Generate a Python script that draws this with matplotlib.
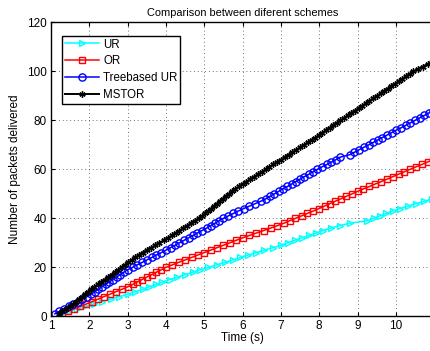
import numpy as np
import matplotlib
matplotlib.use("Agg")
import matplotlib.pyplot as plt

plt.rcParams["font.family"] = ["Liberation Sans", "DejaVu Sans"]

# delivery time (s) of each packet; y is the running count of delivered packets
ur_times = [
    1.26, 1.47, 1.68, 1.89, 2.11, 2.33, 2.56, 2.78, 3.00, 3.20,
    3.39, 3.56, 3.74, 3.91, 4.10, 4.30, 4.50, 4.70, 4.90, 5.11,
    5.33, 5.55, 5.75, 5.94, 6.15, 6.36, 6.57, 6.79, 7.00, 7.18,
    7.36, 7.55, 7.73, 7.91, 8.10, 8.30, 8.53, 8.80, 9.25, 9.42,
    9.58, 9.75, 9.92, 10.11, 10.32, 10.53, 10.74, 10.95,
]
or_times = [
    1.28, 1.44, 1.60, 1.76, 1.92, 2.08, 2.23, 2.38, 2.54, 2.69,
    2.85, 3.00, 3.13, 3.25, 3.38, 3.50, 3.63, 3.75, 3.88, 4.00,
    4.17, 4.33, 4.50, 4.67, 4.83, 5.00, 5.17, 5.33, 5.50, 5.67,
    5.83, 6.00, 6.18, 6.36, 6.55, 6.73, 6.91, 7.08, 7.23, 7.38,
    7.54, 7.69, 7.85, 8.00, 8.14, 8.28, 8.42, 8.57, 8.71, 8.86,
    9.00, 9.15, 9.31, 9.46, 9.62, 9.77, 9.92, 10.07, 10.22, 10.37,
    10.52, 10.68, 10.83, 10.98,
]
tree_times = [
    1.10, 1.22, 1.34, 1.46, 1.58, 1.70, 1.82, 1.94, 2.05, 2.14,
    2.24, 2.33, 2.43, 2.52, 2.62, 2.71, 2.81, 2.90, 3.00, 3.13,
    3.25, 3.38, 3.50, 3.63, 3.75, 3.88, 4.00, 4.12, 4.24, 4.35,
    4.47, 4.59, 4.71, 4.82, 4.94, 5.06, 5.17, 5.28, 5.39, 5.50,
    5.63, 5.76, 5.89, 6.03, 6.18, 6.33, 6.48, 6.61, 6.72, 6.83,
    6.94, 7.05, 7.17, 7.28, 7.39, 7.50, 7.61, 7.73, 7.84, 7.95,
    8.07, 8.20, 8.32, 8.44, 8.55, 8.80, 8.92, 9.04, 9.16, 9.29,
    9.41, 9.53, 9.65, 9.77, 9.89, 10.01, 10.14, 10.26, 10.38, 10.50,
    10.62, 10.74, 10.86, 10.98,
]
mstor_times = [
    1.20, 1.30, 1.40, 1.49, 1.57, 1.65, 1.73, 1.81, 1.88, 1.96,
    2.04, 2.13, 2.22, 2.31, 2.40, 2.49, 2.58, 2.67, 2.76, 2.85,
    2.94, 3.02, 3.11, 3.20, 3.29, 3.39, 3.50, 3.61, 3.72, 3.83,
    3.94, 4.05, 4.15, 4.25, 4.35, 4.45, 4.55, 4.65, 4.75, 4.85,
    4.95, 5.03, 5.10, 5.18, 5.25, 5.33, 5.40, 5.48, 5.56, 5.64,
    5.73, 5.81, 5.90, 6.00, 6.10, 6.20, 6.30, 6.40, 6.50, 6.60,
    6.70, 6.80, 6.90, 7.00, 7.10, 7.20, 7.30, 7.40, 7.50, 7.60,
    7.70, 7.80, 7.90, 7.99, 8.08, 8.18, 8.27, 8.36, 8.46, 8.55,
    8.65, 8.74, 8.84, 8.93, 9.03, 9.12, 9.22, 9.31, 9.41, 9.50,
    9.60, 9.69, 9.79, 9.88, 9.98, 10.07, 10.17, 10.26, 10.36, 10.45,
    10.58, 10.70, 10.83, 10.95,
]

labels = ["UR", "OR", "Treebased UR", "MSTOR"]
x_ticks = [1, 2, 3, 4, 5, 6, 7, 8, 9, 10, 11]
y_ticks = [0, 20, 40, 60, 80, 100, 120]


def count(times):
    return np.arange(1, len(times) + 1)


fig = plt.figure(figsize=(4.31, 3.51), dpi=100)
ax = fig.add_axes([0.1183, 0.099, 0.889, 0.837])

ax.plot(ur_times, count(ur_times), color="cyan", marker=">", markersize=5,
        markerfacecolor="none", markeredgewidth=1.0, linewidth=1.1, label=labels[0])
ax.plot(or_times, count(or_times), color="red", marker="s", markersize=4.5,
        markerfacecolor="none", markeredgewidth=1.0, linewidth=1.1, label=labels[1])
ax.plot(tree_times, count(tree_times), color="blue", marker="o", markersize=5.2,
        markerfacecolor="none", markeredgewidth=1.0, linewidth=1.1, label=labels[2])
# MATLAB-style asterisk marker
ax.plot(mstor_times, count(mstor_times), color="black", marker=(6, 2, 0), markersize=4.5,
        markeredgewidth=1.0, linewidth=1.4, label=labels[3])

ax.set_xlim(1, 11)
ax.set_ylim(0, 120)
ax.set_xticks(x_ticks)
ax.set_yticks(y_ticks)
ax.tick_params(direction="in", top=True, right=True, labelsize=8.5, length=3, pad=3)
ax.grid(True, linestyle=(0, (1, 3.5)), color="#444444", linewidth=0.6)
for s in ax.spines.values():
    s.set_linewidth(1.0)

ax.set_title("Comparison between diferent schemes", fontsize=7.9, pad=5)
ax.set_xlabel("Time (s)", fontsize=8.5, labelpad=0)
ax.set_ylabel("Number of packets delivered", fontsize=8.5, labelpad=4)

leg = ax.legend(loc="upper left", bbox_to_anchor=(0.029, 0.954), borderaxespad=0,
                fontsize=8.3, fancybox=False, framealpha=1, edgecolor="black",
                handlelength=3.0, borderpad=0.22, labelspacing=0.42,
                handletextpad=0.35)
leg.get_frame().set_linewidth(1.0)

fig.savefig("out.png", dpi=100)
